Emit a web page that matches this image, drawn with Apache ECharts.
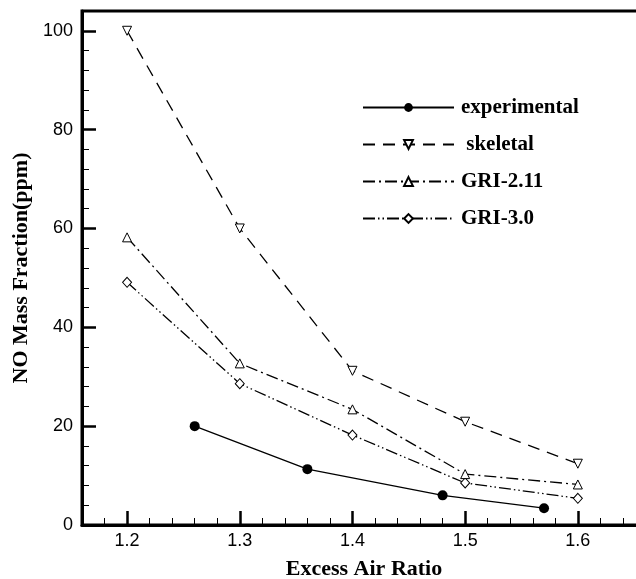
<!DOCTYPE html>
<html>
  <head>
    <meta charset="utf-8" />
    <title>NO Mass Fraction</title>
    <script src="https://cdn.jsdelivr.net/npm/echarts@6.0.0/dist/echarts.min.js"></script>
    <style>
      * {
        margin: 0;
        padding: 0;
        box-sizing: border-box;
      }
      body {
        background: #fff;
      }
    </style>
  </head>
  <body>
    <div id="main" style="width: 636px; height: 579px"></div>
    <script type="text/javascript">
      var myChart = echarts.init(document.getElementById("main"));

      // 实验点
      const expX = [1.26, 1.36, 1.48, 1.57];
      const expY = [20, 11.3, 6.0, 3.4];
      // 模拟结果
      const simX = [1.2, 1.3, 1.4, 1.5, 1.6];
      const skeletalY = [100, 60, 31.2, 20.9, 12.4];
      const gri211Y = [58.2, 32.7, 23.4, 10.3, 8.2];
      const gri30Y = [49.1, 28.6, 18.2, 8.5, 5.4];

      const xTicks = [1.2, 1.3, 1.4, 1.5, 1.6];
      const yTicks = [0, 20, 40, 60, 80, 100];

      const pair = (xs, ys) => xs.map((x, i) => [x, ys[i]]);

      const tickFont = {
        color: "#000",
        fontSize: 18,
        fontFamily: "Liberation Sans",
      };
      const titleFont = {
        color: "#000",
        fontSize: 22,
        fontWeight: "bold",
        fontFamily: "Liberation Serif",
      };
      const hollow = { color: "#fff", borderColor: "#000", borderWidth: 1 };

      var option = {
        animation: false,
        backgroundColor: "#fff",
        grid: {
          left: 82,
          top: 11,
          width: 586,
          height: 514,
          outerBoundsMode: "none",
          show: true,
          borderColor: "#000",
          borderWidth: 3,
          backgroundColor: "transparent",
        },
        legend: {
          orient: "vertical",
          left: 357,
          top: 92,
          itemWidth: 91,
          itemHeight: 11,
          itemGap: 16,
          selectedMode: false,
          textStyle: {
            color: "#000",
            fontSize: 21,
            fontWeight: "bold",
            fontFamily: "Liberation Serif",
            padding: [0, 0, 0, 2],
          },
          data: ["experimental", " skeletal", "GRI-2.11", "GRI-3.0"],
        },
        xAxis: [
          {
            type: "value",
            min: 1.16,
            max: 1.68,
            position: "bottom",
            axisLine: { onZero: false, lineStyle: { color: "#000", width: 3 } },
            axisTick: {
              inside: true,
              length: 14,
              customValues: xTicks,
              lineStyle: { color: "#000", width: 2.5 },
            },
            axisLabel: Object.assign({}, tickFont, {
              customValues: xTicks,
              margin: 7,
              formatter: (v) => v.toFixed(1),
            }),
            splitLine: { show: false },
            name: "Excess Air Ratio",
            nameLocation: "middle",
            nameGap: 33,
            nameTextStyle: Object.assign({}, titleFont, {
              padding: [0, 22, 0, 0],
            }),
          },
          {
            // 次刻度
            type: "value",
            min: 1.16,
            max: 1.68,
            interval: 0.02,
            position: "bottom",
            axisLine: { show: false, onZero: false },
            axisTick: {
              inside: true,
              length: 7,
              lineStyle: { color: "#000", width: 1 },
            },
            axisLabel: { show: false },
            splitLine: { show: false },
          },
        ],
        yAxis: [
          {
            type: "value",
            min: 0,
            max: 104,
            position: "left",
            axisLine: { onZero: false, lineStyle: { color: "#000", width: 3 } },
            axisTick: {
              inside: true,
              length: 14,
              customValues: yTicks,
              lineStyle: { color: "#000", width: 2.5 },
            },
            axisLabel: Object.assign({}, tickFont, {
              customValues: yTicks,
              margin: 9,
            }),
            splitLine: { show: false },
            name: "NO Mass Fraction(ppm)",
            nameLocation: "middle",
            nameGap: 48,
            nameTextStyle: titleFont,
          },
          {
            type: "value",
            min: 0,
            max: 104,
            interval: 4,
            position: "left",
            axisLine: { show: false, onZero: false },
            axisTick: {
              inside: true,
              length: 7,
              lineStyle: { color: "#000", width: 1 },
            },
            axisLabel: { show: false },
            splitLine: { show: false },
          },
        ],
        series: [
          {
            name: "experimental",
            type: "line",
            symbol: "circle",
            symbolSize: 10,
            itemStyle: { color: "#000" },
            lineStyle: { color: "#000", width: 1.3, type: "solid" },
            data: pair(expX, expY),
            z: 5,
          },
          {
            name: " skeletal",
            type: "line",
            symbol: "triangle",
            symbolRotate: 180,
            symbolSize: 9,
            itemStyle: hollow,
            lineStyle: { color: "#000", width: 1.3, type: [12, 8] },
            data: pair(simX, skeletalY),
            z: 4,
          },
          {
            name: "GRI-2.11",
            type: "line",
            symbol: "triangle",
            symbolSize: 9,
            itemStyle: hollow,
            lineStyle: { color: "#000", width: 1.3, type: [12, 4, 2, 4] },
            data: pair(simX, gri211Y),
            z: 3,
          },
          {
            name: "GRI-3.0",
            type: "line",
            symbol: "diamond",
            symbolSize: [9, 10],
            itemStyle: hollow,
            lineStyle: {
              color: "#000",
              width: 1.3,
              type: [12, 3, 1.5, 3, 1.5, 3],
            },
            data: pair(simX, gri30Y),
            z: 2,
          },
        ],
      };

      myChart.setOption(option);
    </script>
  </body>
</html>
